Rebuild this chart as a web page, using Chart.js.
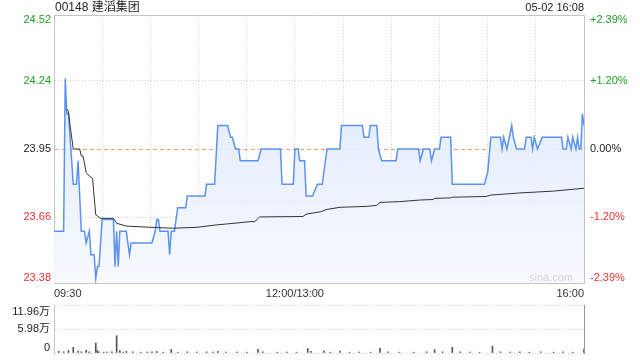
<!DOCTYPE html>
<html><head><meta charset="utf-8">
<script src="https://cdn.jsdelivr.net/npm/chart.js@4.4.1/dist/chart.umd.min.js"></script>
<style>
html,body{margin:0;padding:0;background:#fff;}
#wrap{position:relative;width:640px;height:360px;overflow:hidden;}
#c1{position:absolute;left:0;top:0;}
#c2{position:absolute;left:0;top:300px;}
</style></head><body>
<div id="wrap"><canvas id="c1" width="640" height="300"></canvas><canvas id="c2" width="640" height="60"></canvas></div>
<script>
const titleText = '00148 建滔集团';
const stampText = '05-02 16:08';
const priceTicks = [23.38, 23.66, 23.95, 24.24, 24.52];
const pctLabels = ['-2.39%', '-1.20%', '0.00%', '+1.20%', '+2.39%'];
const timeTicks = [0, 30, 60, 90, 120, 150, 180, 210, 240, 270, 300, 330];
const timeLabels = {0: '09:30', 150: '12:00/13:00', 330: '16:00'};

const priceMinutes = [0,6,7,8,9,12,14,15,17,19,20,22,23,25,26,27,28,30,37,38,39,40,41,45,47,48,61,63,64,65,66,71,72,73,75,77,82,83,94,95,100,102,108,110,111,113,115,116,127,129,141,142,149,150,152,153,156,157,161,164,167,168,170,178,179,192,193,196,197,201,202,204,213,214,227,228,230,234,235,237,240,241,247,248,268,270,272,278,279,280,282,285,286,288,293,294,297,298,299,301,304,316,317,319,320,322,323,325,326,327,328,329,330];
const prices = [23.60,23.60,24.25,24.10,24.10,23.80,23.80,23.90,23.60,23.60,23.55,23.60,23.50,23.50,23.40,23.45,23.45,23.65,23.65,23.45,23.60,23.45,23.60,23.60,23.50,23.55,23.55,23.60,23.65,23.65,23.60,23.60,23.50,23.60,23.60,23.70,23.70,23.75,23.75,23.80,23.80,24.05,24.05,24.00,24.00,23.95,23.95,23.90,23.90,23.95,23.95,23.80,23.80,23.95,23.95,23.90,23.90,23.75,23.75,23.80,23.80,23.85,23.95,23.95,24.05,24.05,24.00,24.00,24.05,24.05,23.95,23.90,23.90,23.95,23.95,23.90,23.95,23.95,23.90,23.95,23.95,24.00,24.00,23.80,23.80,23.85,24.00,24.00,23.95,24.00,23.95,24.05,24.00,23.95,23.95,24.00,24.00,23.95,24.00,23.95,24.00,24.00,23.95,23.95,24.00,23.95,24.00,23.95,24.00,23.95,23.95,24.10,24.05];

const avgMinutes = [8,9,10,12,16,17,18,19,20,22,24,26,29,37,39,45,60,74,89,101,112,122,125,128,155,157,166,170,178,195,201,203,215,228,236,237,247,248,269,272,290,311,330];
const avgPrices = [24.12,24.11,24.05,23.95,23.95,23.92,23.92,23.89,23.85,23.835,23.825,23.67,23.655,23.655,23.634,23.622,23.617,23.613,23.617,23.627,23.634,23.641,23.641,23.661,23.663,23.673,23.683,23.693,23.702,23.706,23.710,23.723,23.726,23.733,23.735,23.740,23.742,23.745,23.748,23.754,23.763,23.771,23.783];

const volMinutes = [3,6,9,12,15,17,20,22,26,27,28,31,33,36,39,41,43,45,49,54,58,61,64,68,73,77,83,89,95,99,102,107,114,120,127,130,139,145,151,158,160,168,172,178,184,190,197,203,208,215,224,232,237,242,248,253,259,265,273,278,284,290,296,303,311,317,323,330];
const volumes = [0.4,0.3,0.6,1.4,0.5,0.3,0.7,0.3,2.5,0.6,0.3,0.2,0.2,0.3,4.3,0.6,0.2,0.4,0.3,0.2,0.2,0.3,0.4,0.2,0.9,0.2,0.3,0.2,0.3,0.2,0.4,0.2,0.2,0.2,0.9,0.3,0.2,0.2,0.2,1.1,0.4,0.5,0.2,0.5,0.2,0.2,0.2,1.2,0.3,0.2,0.2,0.3,0.8,0.3,1.4,0.3,0.2,0.2,1.7,0.3,0.2,0.3,0.2,0.3,0.2,0.3,0.2,1.0];
const volTicks = [0, 5.98, 11.96];
const volLabels = ['0', '5.98万', '11.96万'];

const FONT = "'Liberation Sans', Arial, 'Noto Sans CJK SC', sans-serif";
const GRID = '#cfcfcf';
const FRAME = '#c4c4c4';
const GREEN = '#1f9f1f';
const RED = '#e8312f';

function dotted(ctx) { return ctx.tick ? [1, 2] : []; }

const priceLabelPlugin = {
  id: 'priceLabels',
  afterDraw(chart) {
    const c = chart.ctx, ys = chart.scales.y, a = chart.chartArea;
    c.save();
    c.font = '11px ' + FONT;
    c.textBaseline = 'middle';
    priceTicks.forEach((v, i) => {
      let y = ys.getPixelForValue(v);
      if (i === 0) y -= 5;
      if (i === priceTicks.length - 1) y += 5;
      c.fillStyle = i < 2 ? RED : (i === 2 ? '#222' : GREEN);
      c.textAlign = 'right';
      c.fillText(v.toFixed(2), a.left - 3, y);
      c.textAlign = 'left';
      c.fillText(pctLabels[i], a.right + 6, y);
    });
    c.fillStyle = '#222';
    c.font = '12px ' + FONT;
    c.textAlign = 'left';
    c.fillText(titleText, a.left + 1, 8);
    c.font = '11px ' + FONT;
    c.textAlign = 'right';
    c.fillText(stampText, a.right, 8);
    c.fillStyle = '#d2d2d2';
    c.font = '11px ' + FONT;
    c.textAlign = 'right';
    c.fillText('sina.com', a.right - 11, a.bottom - 5);
    c.restore();
  }
};

new Chart(document.getElementById('c1'), {
  type: 'line',
  data: {
    datasets: [
      {
        data: avgMinutes.map((m, i) => ({x: m, y: avgPrices[i]})),
        borderColor: '#333', borderWidth: 1, pointRadius: 0, fill: false, tension: 0, order: 0
      },
      {
        data: priceMinutes.map((m, i) => ({x: m, y: prices[i]})),
        borderColor: '#5b92ee', borderWidth: 1.5, pointRadius: 0, tension: 0, order: 1,
        fill: 'start',
        backgroundColor: (ctx) => {
          const a = ctx.chart.chartArea;
          if (!a) return 'rgba(220,232,250,0.5)';
          const g = ctx.chart.ctx.createLinearGradient(0, a.top, 0, a.bottom);
          g.addColorStop(0, 'rgba(214,228,250,0.95)');
          g.addColorStop(1, 'rgba(246,249,255,0.9)');
          return g;
        }
      }
    ]
  },
  options: {
    responsive: false, animation: false, events: [],
    layout: {padding: {top: 15, left: 0, right: 0, bottom: 0}},
    plugins: {legend: {display: false}, tooltip: {enabled: false}},
    scales: {
      x: {
        type: 'linear', min: 0, max: 330,
        afterBuildTicks: (s) => { s.ticks = timeTicks.map(v => ({value: v})); },
        afterFit: (s) => { s.height = 17; },
        ticks: {autoSkip: false, maxRotation: 0, align: 'inner', padding: 4, color: '#333',
          font: {size: 11, family: FONT}, callback: (v) => timeLabels[v] || ''},
        grid: {drawTicks: false, color: (ctx) => (ctx.index === 0 || ctx.index === timeTicks.length - 1) ? FRAME : GRID},
        border: {display: true, color: FRAME, dash: (ctx) => (ctx.tick && ctx.index !== 0 && ctx.index !== timeTicks.length - 1) ? [1, 2] : []}
      },
      y: {
        position: 'left', min: priceTicks[0], max: priceTicks[priceTicks.length - 1],
        afterBuildTicks: (s) => { s.ticks = priceTicks.map(v => ({value: v})); },
        afterFit: (s) => { s.width = 54; },
        ticks: {display: false},
        grid: {drawTicks: false, color: (ctx) => {
          if (ctx.index === 2) return '#f0a070';
          if (ctx.index === 0 || ctx.index === priceTicks.length - 1) return FRAME;
          return GRID;
        }},
        border: {display: true, color: FRAME, dash: (ctx) => {
          if (!ctx.tick) return [];
          if (ctx.index === 2) return [4, 3];
          if (ctx.index === 0 || ctx.index === priceTicks.length - 1) return [];
          return [1, 2];
        }}
      },
      yr: {
        position: 'right', min: priceTicks[0], max: priceTicks[priceTicks.length - 1],
        afterFit: (s) => { s.width = 56; },
        ticks: {display: false},
        grid: {display: false, drawTicks: false},
        border: {display: true, color: FRAME}
      }
    }
  },
  plugins: [priceLabelPlugin]
});

const volLabelPlugin = {
  id: 'volLabels',
  afterDraw(chart) {
    const c = chart.ctx, ys = chart.scales.y, a = chart.chartArea;
    c.save();
    c.font = '11px ' + FONT;
    c.textBaseline = 'middle';
    c.textAlign = 'right';
    c.fillStyle = '#222';
    volTicks.forEach((v, i) => {
      let y = ys.getPixelForValue(v);
      if (i === 0) y -= 5;
      if (i === volTicks.length - 1) y += 7;
      c.fillText(volLabels[i], a.left - 4, y);
    });
    c.restore();
  }
};

new Chart(document.getElementById('c2'), {
  type: 'bar',
  data: {
    datasets: [{
      data: volMinutes.map((m, i) => ({x: m, y: volumes[i]})),
      backgroundColor: '#555', borderWidth: 0, barThickness: 1
    }]
  },
  options: {
    responsive: false, animation: false, events: [],
    layout: {padding: {top: 5, left: 0, right: 0, bottom: 0}},
    plugins: {legend: {display: false}, tooltip: {enabled: false}},
    scales: {
      x: {
        type: 'linear', min: 0, max: 330, offset: false,
        afterFit: (s) => { s.height = 7; },
        ticks: {display: false},
        grid: {display: false, drawTicks: false},
        border: {display: false}
      },
      y: {
        position: 'left', min: 0, max: volTicks[volTicks.length - 1],
        afterBuildTicks: (s) => { s.ticks = volTicks.map(v => ({value: v})); },
        afterFit: (s) => { s.width = 54; },
        ticks: {display: false},
        grid: {drawTicks: false, color: GRID},
        border: {display: true, color: FRAME, dash: dotted}
      },
      yr: {
        position: 'right', min: 0, max: volTicks[volTicks.length - 1],
        afterFit: (s) => { s.width = 56; },
        ticks: {display: false},
        grid: {display: false, drawTicks: false},
        border: {display: true, color: '#999'}
      }
    }
  },
  plugins: [volLabelPlugin]
});
</script>
</body></html>
